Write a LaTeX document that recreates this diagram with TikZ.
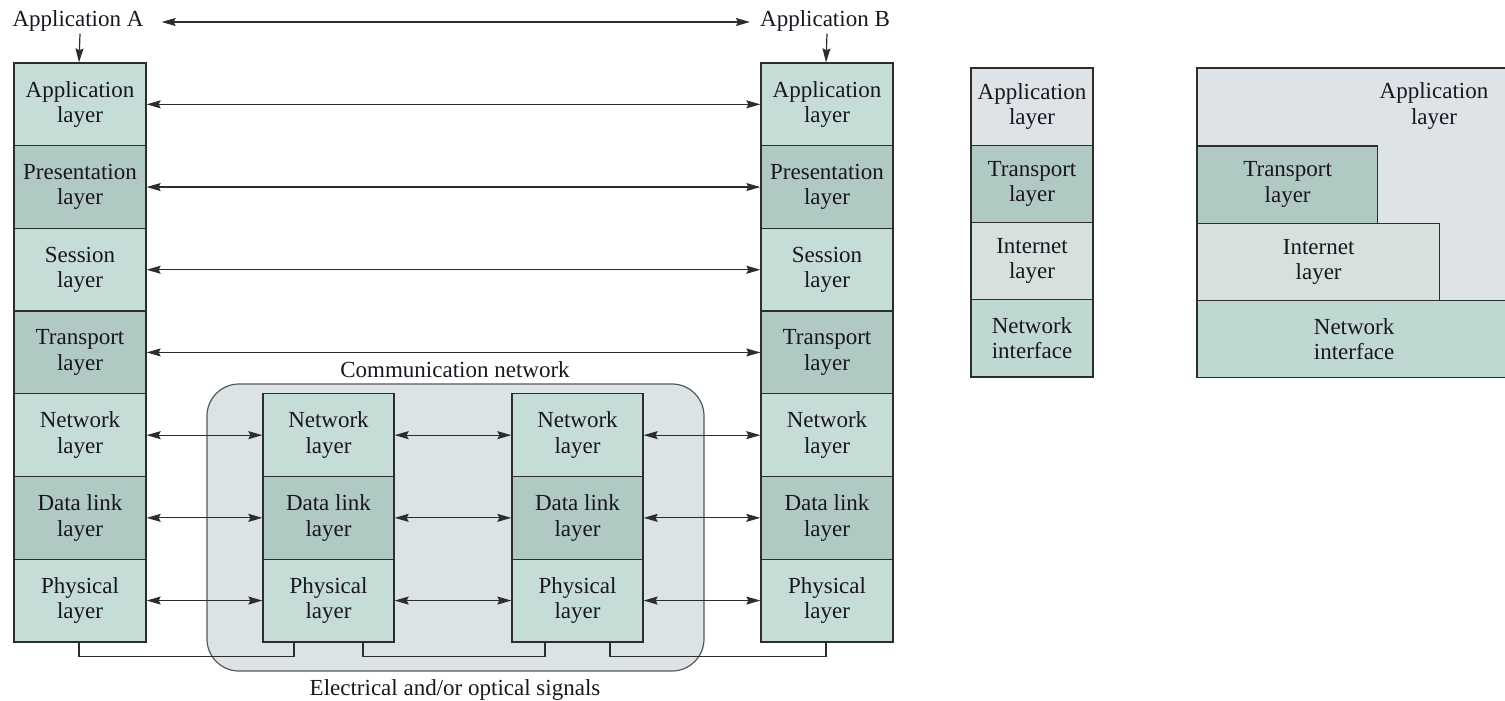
\documentclass[tikz,border=0pt]{standalone}
\usepackage{fontspec}
\setmainfont{Liberation Serif}
\usetikzlibrary{arrows.meta,calc}
\definecolor{lite}{RGB}{198,220,214}
\definecolor{dark}{RGB}{176,201,195}
\definecolor{tapp}{RGB}{221,227,230}
\definecolor{tint}{RGB}{214,224,221}
\definecolor{tnet}{RGB}{192,216,210}
\definecolor{cnet}{RGB}{220,227,230}
\definecolor{linec}{RGB}{45,45,45}
\definecolor{txt}{RGB}{25,22,32}
\begin{document}
\begin{tikzpicture}[x=1pt,y=-1pt,
  txtf/.style={font=\fontsize{23}{25.5}\selectfont, text=txt, align=center},
  lay/.style={draw=linec, line width=1.3pt, minimum width=132pt, minimum height=82.7pt, inner sep=0pt, txtf},
  mlay/.style={lay, minimum width=131pt},
  tlay/.style={draw=linec, line width=1.3pt, minimum width=122pt, minimum height=77.25pt, inner sep=0pt, txtf},
  dar/.style={draw=linec, line width=1.2pt, {Stealth[length=14pt,width=8pt,inset=2pt]}-{Stealth[length=14pt,width=8pt,inset=2pt]}},
  sar/.style={draw=linec, line width=1.2pt, -{Stealth[length=14pt,width=8pt,inset=2pt]}},
  sig/.style={draw=linec, line width=1.2pt},
  lbl/.style={txtf, inner sep=0pt}
]
\useasboundingbox (0,0) rectangle (1505,701);
\clip (0,0) rectangle (1505,701);

% communication network background
\draw[fill=cnet, draw=linec!80, line width=1.2pt, rounded corners=32pt] (207,384) rectangle (704,671);
\node[lbl] (cn) at (455,370) {Communication network};
\node[lbl] (es) at (455,690) {Electrical and/or optical signals};

% end stacks
\foreach \i/\t/\c in {1/Application/lite,2/Presentation/dark,3/Session/lite,4/Transport/dark,5/Network/lite,6/Data link/dark,7/Physical/lite}{
  \node[lay, fill=\c] (A\i) at (80,{63+82.7*(\i-0.5)}) {\t\\layer};
  \node[lay, fill=\c] (B\i) at (827,{63+82.7*(\i-0.5)}) {\t\\layer};
}
\foreach \i/\t/\c in {5/Network/lite,6/Data link/dark,7/Physical/lite}{
  \node[mlay, fill=\c] (P\i) at (328.5,{63+82.7*(\i-0.5)}) {\t\\layer};
  \node[mlay, fill=\c] (Q\i) at (577.5,{63+82.7*(\i-0.5)}) {\t\\layer};
}

% application labels
\node[lbl] (appA) at (78,21) {Application A};
\node[lbl] (appB) at (825,21) {Application B};
\draw[dar, shorten <=18pt, shorten >=10pt] ([yshift=-1pt]appA.east) -- ([yshift=-1pt]appB.west);
\draw[sar] ([yshift=-2pt]appA.south -| A1.north) -- ([xshift=-1pt]A1.north);
\draw[sar] ([yshift=-2pt]appB.south -| B1.north) -- ([xshift=-1pt]B1.north);

% peer arrows
\foreach \i in {1,2,3,4}{
  \draw[dar] (A\i.east) -- (B\i.west);
}
\foreach \i in {5,6,7}{
  \draw[dar] (A\i.east) -- (P\i.west);
  \draw[dar] (P\i.east) -- (Q\i.west);
  \draw[dar] (Q\i.east) -- (B\i.west);
}

% signal lines
\draw[sig] ([xshift=-1pt]A7.south) -- ++(0,14) -| ([xshift=-34.5pt]P7.south);
\draw[sig] ([xshift=34.5pt]P7.south) -- ++(0,14) -| ([xshift=-32.5pt]Q7.south);
\draw[sig] ([xshift=32.5pt]Q7.south) -- ++(0,14) -| ([xshift=-1pt]B7.south);

% TCP/IP stack
\foreach \i/\t/\c in {1/{Application\\layer}/tapp,2/{Transport\\layer}/dark,3/{Internet\\layer}/tint,4/{Network\\interface}/tnet}{
  \node[tlay, fill=\c] (T\i) at (1032,{68+77.25*(\i-0.5)}) {\t};
}

% TCP/IP nested figure
\draw[draw=linec, line width=1.3pt, fill=tapp] (1197,68) rectangle (1520,377);
\node[lbl] (rA) at (1434,106) {Application\\layer};
\node[draw=linec, line width=1.3pt, fill=dark, minimum width=180pt, minimum height=77.25pt, inner sep=0pt, txtf, anchor=north west] (rT) at (1197,145.25) {Transport\\layer};
\node[draw=linec, line width=1.3pt, fill=tint, minimum width=242pt, minimum height=77.25pt, inner sep=0pt, txtf, anchor=north west] (rI) at (1197,222.5) {Internet\\layer};
\node[draw=linec, line width=1.3pt, fill=tnet, minimum width=313pt, minimum height=77.25pt, inner sep=0pt, txtf, anchor=north west] (rN) at (1197,299.75) {Network\\interface};
\end{tikzpicture}
\end{document}
